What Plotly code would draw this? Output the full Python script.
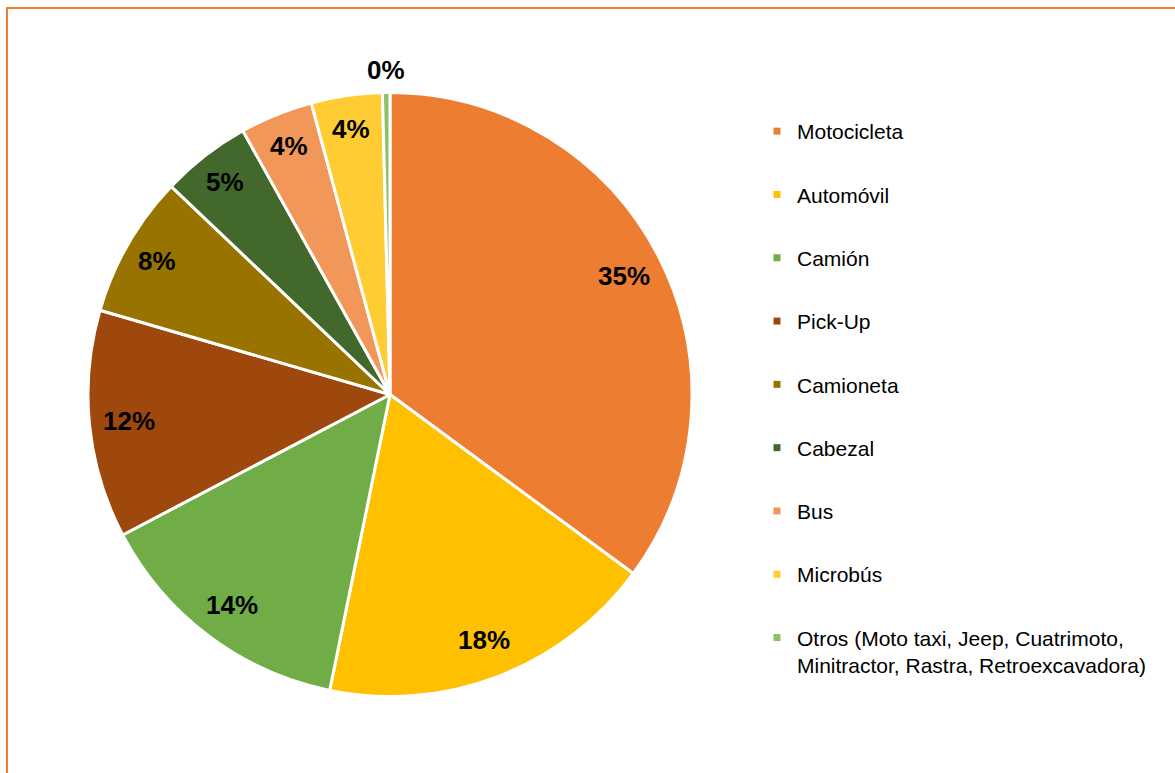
import numpy as np
import plotly.graph_objects as go

categories = ["Motocicleta", "Automóvil", "Camión", "Pick-Up", "Camioneta",
              "Cabezal", "Bus", "Microbús",
              "Otros (Moto taxi, Jeep, Cuatrimoto,<br>Minitractor, Rastra, Retroexcavadora)"]
values = [35.1, 18.1, 14.1, 12.2, 7.6, 4.8, 3.9, 3.8, 0.4]
colors = ["#ED7D31", "#FFC000", "#70AD47", "#9E480E", "#997300",
          "#43682B", "#F1975A", "#FFCD33", "#8CC168"]

W, H = 1175, 773
cx, cy, R = 390, 394.5, 302

def px(x):
    return x / W

def py(y):
    return 1 - y / H

fig = go.Figure()
fig.add_trace(go.Pie(
    labels=categories, values=values, sort=False, direction="clockwise",
    rotation=0, textinfo="none", showlegend=False,
    marker=dict(colors=colors, line=dict(color="white", width=3)),
    domain=dict(x=[px(cx - R), px(cx + R)], y=[py(cy + R), py(cy - R)]),
))

# legend entries
for i, (c, col) in enumerate(zip(categories, colors)):
    fig.add_trace(go.Scatter(
        x=[None], y=[None], mode="markers", name=c, legendgroup=f"g{i}",
        marker=dict(symbol="square", size=7, color=col), hoverinfo="skip"))

# data labels computed from values
vals = np.array(values)
frac = vals / vals.sum()
cum = np.cumsum(frac) - frac / 2
annotations = []
for f, m in zip(frac, cum):
    ang = 2 * np.pi * m
    if f >= 0.1:
        r = 0.87 * R
    elif f >= 0.01:
        r = 0.89 * R
    else:
        r = 1.075 * R
    x = cx + r * np.sin(ang)
    y = cy - r * np.cos(ang)
    annotations.append(dict(
        x=px(x), y=py(y), xref="paper", yref="paper", showarrow=False,
        text=f"<b>{round(f * 100):.0f}%</b>",
        font=dict(family="Liberation Sans, Arial", size=26, color="black"),
        xanchor="center", yanchor="middle"))

fig.update_layout(
    width=W, height=H,
    margin=dict(l=0, r=0, t=0, b=0),
    paper_bgcolor="white", plot_bgcolor="white",
    xaxis=dict(visible=False), yaxis=dict(visible=False),
    font=dict(family="Liberation Sans, Arial", color="black"),
    legend=dict(x=px(757), y=py(111), xanchor="left", yanchor="top",
                font=dict(size=21, color="black"), tracegroupgap=33,
                valign="top", bgcolor="rgba(0,0,0,0)"),
    annotations=annotations,
    shapes=[dict(type="rect", xref="paper", yref="paper",
                 x0=px(7), x1=1.2, y0=-0.2, y1=py(8),
                 line=dict(color="#ED7D31", width=2))],
)

fig.write_html("out.html", config={"displayModeBar": False},
               post_script="document.body.style.margin='0px';")
